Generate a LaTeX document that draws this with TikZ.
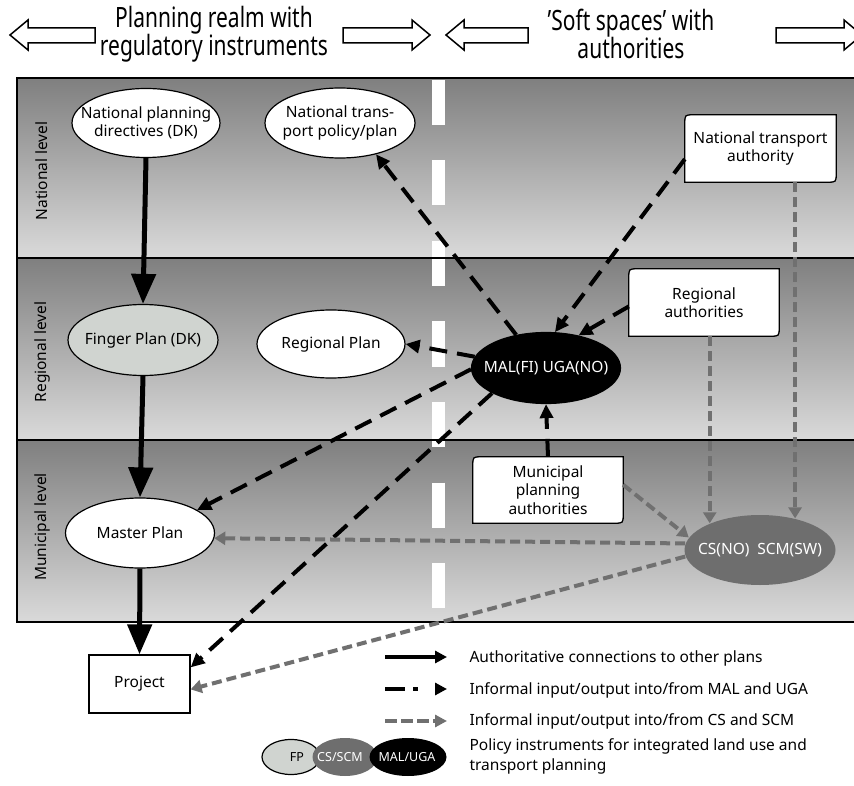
\documentclass[tikz,border=0pt]{standalone}
\usepackage{fontspec}
\setmainfont{Noto Sans}
\newfontfamily\headfont[FakeStretch=0.75]{Noto Sans}
\newfontfamily\bodyfont{Noto Sans}
\usetikzlibrary{shapes.geometric,arrows.meta,calc}
\pgfdeclarelayer{back}
\pgfdeclarelayer{mid}
\pgfsetlayers{back,mid,main}
\definecolor{bandtop}{RGB}{127,127,127}
\definecolor{bandbot}{RGB}{218,218,218}
\definecolor{fpfill}{RGB}{208,212,208}
\definecolor{csfill}{RGB}{110,110,110}
\definecolor{gline}{RGB}{112,112,112}
\newcommand{\cornerbox}[1]{%
  \draw[line width=1.3pt,fill=white] (#1.south west) -- ($(#1.north west)+(0,9)$)
    .. controls (#1.north west) .. ($(#1.north west)+(9,0)$) -- (#1.north east)
    -- ($(#1.south east)+(0,-9)$) .. controls (#1.south east) .. ($(#1.south east)+(-9,0)$) -- cycle;}
\begin{document}
\begin{tikzpicture}[x=1pt,y=-1pt,
  txt/.style={font=\bodyfont\fontsize{15.5}{18.5}\selectfont, align=center},
  ell/.style={ellipse, draw, line width=1.2pt, inner sep=0pt},
  boxn/.style={rectangle, inner sep=0pt, txt},
  auth/.style={line width=5pt, -{Triangle[length=30pt,width=24pt]}},
  blk/.style={line width=4pt, dash pattern=on 18pt off 10pt, -{Triangle[length=14pt,width=13pt]}},
  gry/.style={draw=gline, line width=4pt, dash pattern=on 10pt off 5pt, -{Triangle[length=11pt,width=13pt,fill=gline]}},
  hollow/.style={draw, line width=1.5pt, fill=white},
  lvl/.style={rotate=90, font=\bodyfont\fontsize{15.5}{18}\selectfont},
  head/.style={font=\headfont\fontsize{28}{28}\selectfont, align=center},
  legtxt/.style={anchor=west, font=\bodyfont\fontsize{15.5}{20}\selectfont, align=left},
  smalltxt/.style={font=\bodyfont\fontsize{12.5}{13}\selectfont}
]
\useasboundingbox (0,0) rectangle (854,786);

% header arrows
\draw[hollow] (10,35) -- (28,20) -- (28,28) -- (95,28) -- (95,43) -- (28,43) -- (28,50) -- cycle;
\draw[hollow] (430,35) -- (412,20) -- (412,28) -- (343,28) -- (343,43) -- (412,43) -- (412,50) -- cycle;
\draw[hollow] (446,35) -- (464,20) -- (464,28) -- (528,28) -- (528,43) -- (464,43) -- (464,50) -- cycle;
\draw[hollow] (862,35) -- (844,20) -- (844,28) -- (776,28) -- (776,43) -- (844,43) -- (844,50) -- cycle;
\node[head] (h1) at (214,34) {Planning realm with\\regulatory instruments};
\node[head] (h2) at (631,34) {’Soft spaces’ with\\authorities};

% bands
\begin{pgfonlayer}{back}
\shade[top color=bandtop,bottom color=bandbot] (17,78) rectangle (860,258);
\shade[top color=bandtop,bottom color=bandbot] (17,258) rectangle (860,440);
\shade[top color=bandtop,bottom color=bandbot] (17,440) rectangle (860,622);
\draw[white, line width=13pt, dash pattern=on 45pt off 35.5pt] (438,80) -- (438,620);
\draw[line width=2pt] (17,78) rectangle (860,622);
\draw[line width=2pt] (17,258) -- (860,258);
\draw[line width=2pt] (17,440) -- (860,440);
\end{pgfonlayer}

\node[lvl] (lvn) at (42,171) {National level};
\node[lvl] (lvr) at (42,352) {Regional level};
\node[lvl] (lvm) at (42,527) {Municipal level};

% ellipse nodes (shape) and their texts
\node[ell, fill=white, minimum width=148pt, minimum height=69pt] (npd) at (146,123) {};
\node[txt] (npdt) at (npd) {National planning\\directives (DK)};
\node[ell, fill=white, minimum width=150pt, minimum height=70pt] (ntp) at (340,123) {};
\node[txt] (ntpt) at (ntp) {National trans-\\port policy/plan};
\node[ell, fill=fpfill, minimum width=150pt, minimum height=71pt] (fp) at (143,340) {};
\node[txt] (fpt) at (fp) {Finger Plan (DK)};
\node[ell, fill=white, minimum width=148pt, minimum height=68pt] (rp) at (331,344) {};
\node[txt] (rpt) at (rp) {Regional Plan};
\node[ell, fill=black, minimum width=149pt, minimum height=71pt] (mal) at (546,368) {};
\node[txt, text=white] (malt) at (mal) {MAL(FI) UGA(NO)};
\node[ell, draw=none, fill=csfill, minimum width=151pt, minimum height=70pt] (cs) at (760,550) {};
\node[txt, text=white] (cst) at (cs) {CS(NO)\hspace{0.5em}SCM(SW)};
\node[ell, fill=white, minimum width=149pt, minimum height=70pt] (mp) at (140,533) {};
\node[txt] (mpt) at (mp) {Master Plan};

% boxes
\node[boxn, minimum width=151pt, minimum height=67pt] (nta) at (760.5,148.5) {National transport\\authority};
\node[boxn, minimum width=150pt, minimum height=67pt] (ra) at (704,302.5) {Regional\\authorities};
\node[boxn, minimum width=150pt, minimum height=66pt] (mpa) at (548,490) {Municipal\\planning\\authorities};
\node[boxn, draw, line width=1.3pt, fill=white, minimum width=101pt, minimum height=58pt] (proj) at (139.5,684) {Project};

\begin{pgfonlayer}{mid}
\cornerbox{nta}
\cornerbox{ra}
\cornerbox{mpa}
\end{pgfonlayer}

% authoritative
\draw[auth] (npd.south) -- (fp.north);
\draw[auth] (fp.south) -- (mp.north);
\draw[auth] (mp.south) -- (proj.north);

% informal MAL/UGA
\draw[blk] (mal.132) -- (ntp.-41);
\draw[blk] (nta.188) -- (mal.76);
\draw[blk] (ra.183) -- (mal.45);
\draw[blk] (mal.171) -- (rp.east);
\draw[blk] (mal.181) -- (mp.22);
\draw[blk] (mal.205) -- (proj.18);
\draw[blk] (mpa.north) -- (mal.south);

% informal CS/SCM
\draw[gry] (cs.42.6 |- nta.south) -- (cs.42.6);
\draw[gry] (cs.152 |- ra.south) -- (cs.152);
\draw[gry] (mpa.4) -- (cs.170);
\draw[gry] (cs.175) -- (mp.-4);
\draw[gry] (cs.185) -- (proj.-6);

% legend
\coordinate (l1a) at (385,657); \coordinate (l1b) at (447,657);
\coordinate (l2a) at (385,689); \coordinate (l2b) at (447,689);
\coordinate (l3a) at (385,721); \coordinate (l3b) at (447,721);
\draw[line width=3.5pt, -{Triangle[length=12pt,width=12pt]}] (l1a) -- (l1b);
\draw[line width=4pt, dash pattern=on 20pt off 8pt on 5pt off 30pt, -{Triangle[length=12pt,width=12pt]}] (l2a) -- (l2b);
\draw[draw=gline, line width=4pt, dash pattern=on 12pt off 4pt, -{Triangle[length=12pt,width=12pt,fill=gline]}] (l3a) -- (l3b);
\node[legtxt] (t1) at (466,658) {Authoritative connections to other plans};
\node[legtxt] (t2) at (466,690) {Informal input/output into/from MAL and UGA};
\node[legtxt] (t3) at (466,721) {Informal input/output into/from CS and SCM};
\node[legtxt] (t4) at (466,756) {Policy instruments for integrated land use and\\transport planning};

\node[ellipse, draw, line width=1.2pt, fill=fpfill, minimum width=58pt, minimum height=35pt, inner sep=0pt] (lfp) at (291,757) {};
\node[ellipse, fill=csfill, minimum width=65pt, minimum height=38pt, inner sep=0pt] (lcs) at (345,757) {};
\node[ellipse, fill=black, minimum width=77pt, minimum height=38pt, inner sep=0pt] (lmal) at (408,757) {};
\node[smalltxt] (lfpt) at (297,757) {FP};
\node[smalltxt, text=white] (lcst) at (340,757) {CS/SCM};
\node[smalltxt, text=white] (lmalt) at (407,757) {MAL/UGA};
\end{tikzpicture}
\end{document}
